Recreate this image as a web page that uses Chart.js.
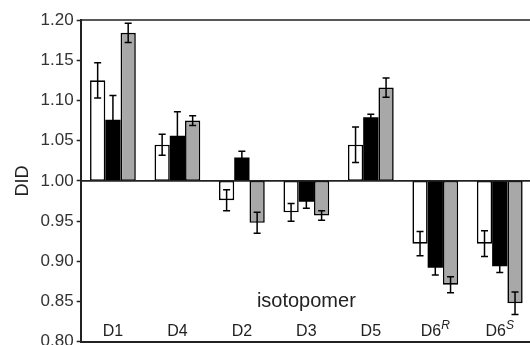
<!DOCTYPE html>
<html>
<head>
<meta charset="utf-8">
<script src="https://cdn.jsdelivr.net/npm/chart.js@4.4.1/dist/chart.umd.min.js"></script>
<style>
  html, body { margin: 0; padding: 0; background: #fff; overflow: hidden; width: 530px; height: 345px; }
  #wrap { width: 532px; height: 355px; position: relative; }
</style>
</head>
<body>
<div id="wrap"><canvas id="chart"></canvas></div>
<script>
// categories, "^" marks the italic superscript part
const categories = ['D1', 'D4', 'D2', 'D3', 'D5', 'D6^R', 'D6^S']
const yTicks = [0.80, 0.85, 0.90, 0.95, 1.00, 1.05, 1.10, 1.15, 1.20]
const baseline = 1.0

const whiteVals = [1.125, 1.045, 0.976, 0.961, 1.045, 0.922, 0.922]
const whiteErr  = [0.022, 0.013, 0.013, 0.011, 0.022, 0.015, 0.016]
const blackVals = [1.076, 1.056, 1.029, 0.974, 1.079, 0.892, 0.894]
const blackErr  = [0.030, 0.030, 0.008, 0.008, 0.004, 0.009, 0.008]
const grayVals  = [1.184, 1.075, 0.948, 0.957, 1.116, 0.871, 0.848]
const grayErr   = [0.012, 0.006, 0.013, 0.006, 0.012, 0.010, 0.014]

const FONT = "'Liberation Sans', Arial, Helvetica, sans-serif"

function floating(vals) {
  return vals.map(v => [baseline, v])
}

function barSet(vals, errs, fill, border) {
  return {
    data: floating(vals),
    errors: errs,
    backgroundColor: fill,
    borderColor: '#000',
    borderWidth: border,
    borderSkipped: false,
    categoryPercentage: 0.71,
    barPercentage: 1.0
  }
}

// top line of the frame and the 1.00 line
const framePlugin = {
  id: 'frame',
  afterDatasetsDraw(chart) {
    const { ctx, chartArea: a, scales } = chart
    const y1 = scales.y.getPixelForValue(baseline)
    ctx.save()
    ctx.strokeStyle = '#222'
    ctx.lineWidth = 1.6
    ctx.beginPath()
    ctx.moveTo(a.left, y1)
    ctx.lineTo(a.right, y1)
    ctx.moveTo(a.left, a.top)
    ctx.lineTo(a.right, a.top)
    ctx.stroke()
    ctx.restore()
  }
}

// error bars drawn from each dataset's errors array
const errorBarPlugin = {
  id: 'errorBars',
  afterDatasetsDraw(chart) {
    const { ctx, scales } = chart
    ctx.save()
    ctx.strokeStyle = '#000'
    ctx.lineWidth = 1.5
    chart.data.datasets.forEach((ds, di) => {
      const meta = chart.getDatasetMeta(di)
      meta.data.forEach((bar, i) => {
        const v = ds.data[i][1]
        const e = ds.errors[i]
        const yTop = scales.y.getPixelForValue(v + e)
        const yBot = scales.y.getPixelForValue(v - e)
        const cap = 3.5
        ctx.beginPath()
        ctx.moveTo(bar.x, yTop)
        ctx.lineTo(bar.x, yBot)
        ctx.moveTo(bar.x - cap, yTop)
        ctx.lineTo(bar.x + cap, yTop)
        ctx.moveTo(bar.x - cap, yBot)
        ctx.lineTo(bar.x + cap, yBot)
        ctx.stroke()
      })
    })
    ctx.restore()
  }
}

// category labels and axis title sit inside the plot area
const insideLabels = {
  id: 'insideLabels',
  afterDraw(chart) {
    const { ctx, chartArea: a, scales } = chart
    ctx.save()
    ctx.fillStyle = '#222'
    ctx.textBaseline = 'alphabetic'
    categories.forEach((lab, i) => {
      const [main, sup] = lab.split('^')
      const x = scales.x.getPixelForValue(i)
      const y = a.bottom - 6
      ctx.font = '16px ' + FONT
      const w1 = ctx.measureText(main).width
      let w2 = 0
      if (sup) {
        ctx.font = 'italic 12px ' + FONT
        w2 = ctx.measureText(sup).width
      }
      const start = x - (w1 + w2) / 2
      ctx.font = '16px ' + FONT
      ctx.textAlign = 'left'
      ctx.fillText(main, start, y)
      if (sup) {
        ctx.font = 'italic 12px ' + FONT
        ctx.fillText(sup, start + w1, y - 7)
      }
    })
    ctx.font = '20px ' + FONT
    ctx.textAlign = 'center'
    ctx.fillText('isotopomer', (a.left + a.right) / 2, a.bottom - 35)
    ctx.restore()
  }
}

new Chart(document.getElementById('chart'), {
  type: 'bar',
  data: {
    labels: categories,
    datasets: [
      barSet(whiteVals, whiteErr, '#ffffff', 1.6),
      barSet(blackVals, blackErr, '#000000', 0),
      barSet(grayVals, grayErr, '#a8a8a8', 1.6)
    ]
  },
  options: {
    responsive: true,
    maintainAspectRatio: false,
    animation: false,
    layout: {
      padding: { top: 20, right: 0, bottom: 2, left: 12 }
    },
    plugins: {
      legend: { display: false },
      tooltip: { enabled: false }
    },
    scales: {
      x: {
        grid: { display: false },
        ticks: { display: false },
        border: { display: true, color: '#222', width: 2 }
      },
      y: {
        min: 0.8,
        max: 1.2,
        afterBuildTicks: axis => {
          axis.ticks = yTicks.map(v => ({ value: v }))
        },
        grid: {
          drawOnChartArea: false,
          tickLength: 4,
          tickColor: '#222',
          tickWidth: 1.5
        },
        border: { display: true, color: '#222', width: 2 },
        ticks: {
          color: '#333',
          padding: 3,
          font: { family: FONT, size: 17 },
          callback: value => value.toFixed(2)
        },
        title: {
          display: true,
          text: 'DID',
          color: '#222',
          padding: { top: 0, bottom: 4 },
          font: { family: FONT, size: 18 }
        }
      }
    }
  },
  plugins: [framePlugin, errorBarPlugin, insideLabels]
})
</script>
</body>
</html>
